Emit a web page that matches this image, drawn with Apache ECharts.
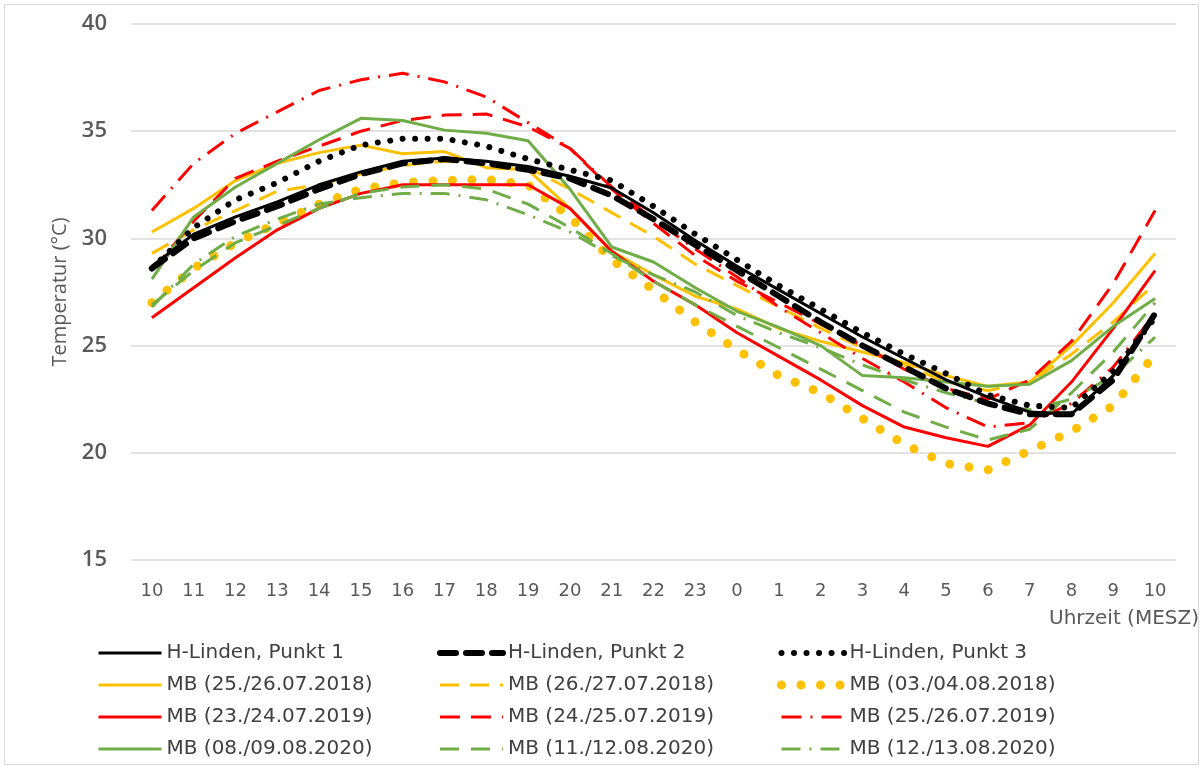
<!DOCTYPE html>
<html><head><meta charset="utf-8">
<script src="https://cdn.jsdelivr.net/npm/echarts@6/dist/echarts.min.js"></script>
<style>html,body{margin:0;padding:0;background:#fff}#c{width:1203px;height:769px}</style>
</head><body><div id="c"></div>
<script>
// Category labels (hours, MESZ)
const hours = ['10','11','12','13','14','15','16','17','18','19','20','21','22','23','0','1','2','3','4','5','6','7','8','9','10'];
const yTicks = [15, 20, 25, 30, 35, 40];

// Series values (°C)
const punkt1 = [28.7, 30.2, 31.0, 31.7, 32.5, 33.1, 33.6, 33.75, 33.6, 33.35, 32.9, 32.35, 31.2, 29.9, 28.7, 27.6, 26.5, 25.4, 24.4, 23.4, 22.6, 21.9, 21.8, 23.6, 26.4];
const punkt2 = [28.6, 30.0, 30.8, 31.5, 32.3, 33.0, 33.5, 33.7, 33.5, 33.2, 32.8, 32.0, 30.9, 29.7, 28.5, 27.3, 26.1, 25.0, 24.0, 23.0, 22.3, 21.8, 21.8, 23.4, 26.5];
const punkt3 = [28.6, 30.5, 31.8, 32.6, 33.6, 34.35, 34.65, 34.65, 34.3, 33.7, 33.2, 32.7, 31.5, 30.2, 29.0, 27.8, 26.7, 25.6, 24.6, 23.7, 22.7, 22.2, 22.1, 23.8, 26.3];
const mb2018a = [30.3, 31.4, 32.7, 33.5, 34.0, 34.35, 33.95, 34.05, 33.3, 33.2, 31.4, 29.4, 28.3, 27.3, 26.7, 25.8, 25.2, 24.7, 24.2, 23.6, 23.1, 23.3, 25.0, 27.0, 29.3];
const mb2018b = [29.3, 30.4, 31.3, 32.2, 32.5, 33.0, 33.4, 33.6, 33.5, 33.3, 32.3, 31.2, 30.1, 28.8, 27.8, 26.8, 25.8, 24.9, 24.1, 23.3, 22.9, 23.3, 24.6, 26.1, 27.9];
const mb2018c = [27.0, 28.6, 29.8, 30.7, 31.6, 32.3, 32.6, 32.7, 32.75, 32.5, 31.0, 29.0, 27.6, 26.1, 24.8, 23.6, 22.8, 21.6, 20.4, 19.5, 19.2, 20.1, 21.0, 22.2, 24.6];
const mb2019a = [26.3, 27.7, 29.1, 30.4, 31.4, 32.1, 32.5, 32.5, 32.5, 32.5, 31.4, 29.4, 28.0, 26.9, 25.6, 24.5, 23.4, 22.2, 21.2, 20.7, 20.3, 21.3, 23.3, 25.8, 28.5];
const mb2019b = [28.5, 30.8, 32.8, 33.6, 34.3, 35.0, 35.5, 35.75, 35.8, 35.2, 34.2, 32.3, 30.7, 29.2, 28.0, 27.0, 26.0, 25.0, 23.9, 23.0, 22.5, 23.4, 25.2, 27.9, 31.3];
const mb2019c = [31.3, 33.5, 34.9, 35.9, 36.9, 37.4, 37.7, 37.3, 36.6, 35.4, 34.2, 32.4, 30.9, 29.5, 28.2, 26.8, 25.6, 24.4, 23.3, 22.1, 21.2, 21.4, 22.3, 24.0, 26.5];
const mb2020a = [28.1, 31.0, 32.4, 33.5, 34.6, 35.6, 35.5, 35.05, 34.9, 34.55, 32.3, 29.6, 28.9, 27.7, 26.6, 25.85, 25.0, 23.6, 23.5, 23.3, 23.1, 23.2, 24.3, 25.9, 27.2];
const mb2020b = [26.9, 28.5, 29.8, 30.6, 31.4, 32.1, 32.4, 32.5, 32.3, 31.6, 30.5, 29.3, 28.0, 26.9, 25.9, 24.9, 23.9, 22.9, 21.9, 21.2, 20.6, 21.1, 22.8, 24.7, 27.0];
const mb2020c = [26.8, 28.8, 30.1, 30.9, 31.6, 31.9, 32.1, 32.1, 31.8, 31.1, 30.3, 29.2, 28.3, 27.5, 26.4, 25.6, 24.9, 24.1, 23.4, 22.8, 22.3, 22.0, 22.5, 23.6, 25.4];

const names = {
  p1: 'H-Linden, Punkt 1', p2: 'H-Linden, Punkt 2', p3: 'H-Linden, Punkt 3',
  a18: 'MB (25./26.07.2018)', b18: 'MB (26./27.07.2018)', c18: 'MB (03./04.08.2018)',
  a19: 'MB (23./24.07.2019)', b19: 'MB (24./25.07.2019)', c19: 'MB (25./26.07.2019)',
  a20: 'MB (08./09.08.2020)', b20: 'MB (11./12.08.2020)', c20: 'MB (12./13.08.2020)'
};

const BLACK = '#000000', ORANGE = '#FFC000', RED = '#FF0000', GREEN = '#70AD47';

function line(name, data, color, width, type, cap, z) {
  return {
    name, type: 'line', data, symbol: 'none', smooth: false, z: z || 2,
    lineStyle: { color, width, type, cap: cap || 'butt', join: 'round' },
    itemStyle: { color },
    emphasis: { disabled: true }
  };
}

const series = [
  line(names.a18, mb2018a, ORANGE, 3, 'solid'),
  line(names.b18, mb2018b, ORANGE, 3, [19, 11]),
  line(names.c18, mb2018c, ORANGE, 9, [0.01, 19.5], 'round'),
  line(names.a19, mb2019a, RED, 3, 'solid'),
  line(names.b19, mb2019b, RED, 3, [20, 11]),
  line(names.c19, mb2019c, RED, 3, [20, 9, 2, 9]),
  line(names.a20, mb2020a, GREEN, 3, 'solid'),
  line(names.b20, mb2020b, GREEN, 3, [19, 12]),
  line(names.c20, mb2020c, GREEN, 3, [19, 9, 2, 9]),
  line(names.p1, punkt1, BLACK, 3, 'solid', 'butt', 3),
  line(names.p2, punkt2, BLACK, 6, [16, 10], 'round', 3),
  line(names.p3, punkt3, BLACK, 6, [0.01, 12.5], 'round', 3)
];

const legendText = { fontSize: 20, color: '#404040', fontFamily: 'DejaVu Sans', lineHeight: 20 };
function legendCol(left, data) {
  return {
    orient: 'vertical', left, top: 638, itemWidth: 63, itemHeight: 20, itemGap: 12,
    data, textStyle: legendText, selectedMode: false,
    itemStyle: { opacity: 0, borderWidth: 0 },
    lineStyle: { width: 'inherit', type: 'inherit', cap: 'inherit', opacity: 1 }
  };
}

const option = {
  animation: false,
  backgroundColor: '#ffffff',
  title: {
    text: 'Uhrzeit (MESZ)', right: 4, top: 609, padding: 0,
    textStyle: { fontSize: 20, fontWeight: 'normal', color: '#595959', fontFamily: 'DejaVu Sans' }
  },
  graphic: [{
    type: 'rect', silent: true, z: -1,
    shape: { x: 4.5, y: 4.5, width: 1194, height: 760 },
    style: { fill: 'none', stroke: '#d9d9d9', lineWidth: 1 }
  }],
  legend: [
    legendCol(92, [names.p1, names.a18, names.a19, names.a20]),
    legendCol(432, [names.p2, names.b18, names.b19, names.b20]),
    legendCol(772, [names.p3, names.c18, names.c19, names.c20])
  ],
  grid: { left: 131, right: 27, top: 24, bottom: 209, containLabel: false, outerBoundsMode: 'none' },
  xAxis: {
    type: 'category', data: hours, boundaryGap: true,
    axisLine: { show: false }, axisTick: { show: false },
    axisLabel: { interval: 0, fontSize: 18, color: '#595959', fontFamily: 'DejaVu Sans', margin: 22 },
    splitLine: { show: false }
  },
  yAxis: {
    type: 'value', min: yTicks[0], max: yTicks[yTicks.length - 1], interval: 5,
    name: 'Temperatur (°C)', nameLocation: 'middle', nameGap: 61, nameMoveOverlap: false,
    nameTextStyle: { fontSize: 20, color: '#595959', fontFamily: 'Open Sans' },
    axisLine: { show: false }, axisTick: { show: false },
    axisLabel: { fontSize: 22, fontWeight: 600, color: '#595959', fontFamily: 'Open Sans', margin: 24 },
    splitLine: { lineStyle: { color: '#d9d9d9', width: 1.5 } }
  },
  series
};

const chart = echarts.init(document.getElementById('c'), null, { renderer: 'canvas' });
chart.setOption(option);
</script>
</body></html>
